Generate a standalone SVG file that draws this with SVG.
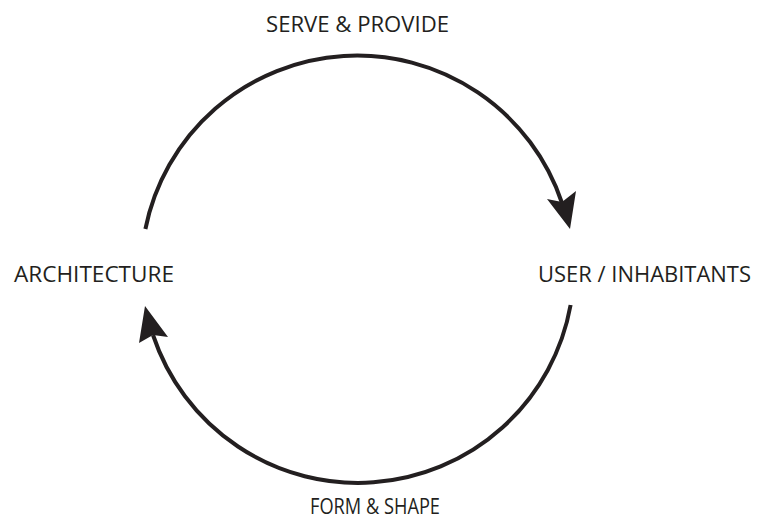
<svg xmlns="http://www.w3.org/2000/svg" width="763" height="519" viewBox="0 0 763 519">
<style>
.lbl{font-family:"Open Sans","Liberation Sans",sans-serif;font-size:21px;fill:#231f20;text-anchor:middle}
.arc{fill:none;stroke:#231f20;stroke-width:4}
.head{fill:#231f20}
</style>
<rect width="763" height="519" fill="#fff"/>
<g id="connectors">
<path class="arc" d="M145.4,229 A216,216 0 0 1 562,203"/>
<polygon class="head" points="570,229 547,199 562,202 576,191"/>
<path class="arc" d="M570.6,305 A216,216 0 0 1 153,335"/>
<polygon class="head" points="145,306 168,337 153,335 139,343"/>
</g>
<g id="architecture"><text class="lbl" x="94" y="281.7" textLength="160" lengthAdjust="spacingAndGlyphs">ARCHITECTURE</text></g>
<g id="user"><text class="lbl" x="644.5" y="282" textLength="213" lengthAdjust="spacingAndGlyphs">USER / INHABITANTS</text></g>
<g id="serve"><text class="lbl" x="357.5" y="31.7" textLength="183" lengthAdjust="spacingAndGlyphs">SERVE &amp; PROVIDE</text></g>
<g id="form"><text class="lbl" x="375" y="513.5" textLength="130" lengthAdjust="spacingAndGlyphs">FORM &amp; SHAPE</text></g>
</svg>
